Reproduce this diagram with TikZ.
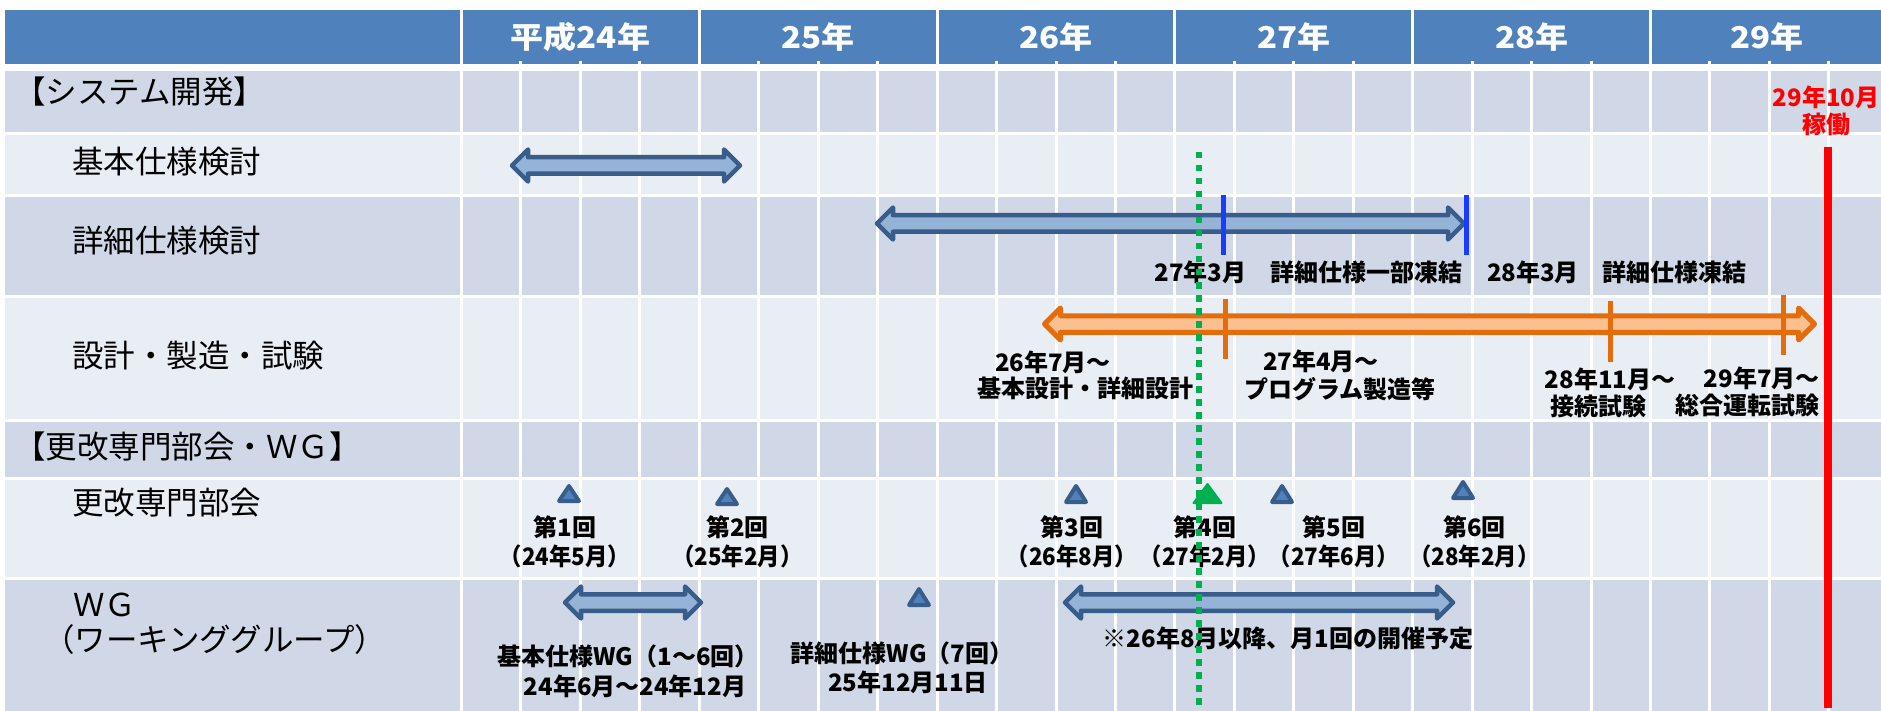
\documentclass[tikz,border=0pt]{standalone}
\usepackage{fontspec}
\newfontfamily\jp{Noto Sans CJK JP}
\definecolor{hdr}{HTML}{4F81BD}
\definecolor{rowA}{HTML}{D0D8E8}
\definecolor{rowB}{HTML}{E9EDF4}
\definecolor{arrFill}{HTML}{95B3D7}
\definecolor{arrLine}{HTML}{385D8A}
\definecolor{orLine}{HTML}{E46C0A}
\definecolor{orFill}{HTML}{FAC090}
\definecolor{grn}{HTML}{00B050}
\definecolor{tickBlue}{HTML}{1A3CFF}
\newcommand\blockarr[4]{%
  \draw[#1] (#2,#4) -- ++(16,-16) -- ++(0,7.75) -- (#3-16,#4-8.25) -- ++(0,-7.75)
   -- (#3,#4) -- ++(-16,16) -- ++(0,-7.75) -- (#2+16,#4+8.25) -- ++(0,7.75) -- cycle;}
\newcommand\mtri[5]{%
  \draw[#1] (#2,#3) -- (#2+#5,#4) -- (#2-#5,#4) -- cycle;}
\newcommand\pl[1]{\scalebox{0.93}[1]{#1}}
\begin{document}
\begin{tikzpicture}[x=1pt,y=-1pt,
  lbl/.style={font=\jp\fontsize{31.5}{38}\selectfont, anchor=west, inner sep=0pt},
  bl/.style={font=\jp\bfseries\fontsize{24}{29}\selectfont, align=center, inner sep=0pt},
  blt/.style={font=\jp\bfseries\fontsize{24}{27}\selectfont, align=center, inner sep=0pt},
  hd/.style={font=\jp\bfseries\fontsize{30}{36}\selectfont, text=white, inner sep=0pt},
  barB/.style={draw=arrLine, fill=arrFill, line width=4.5pt, line join=round},
  barO/.style={draw=orLine, fill=orFill, line width=5pt, line join=round},
  triB/.style={draw=arrLine, fill=hdr, line width=4pt, line join=round},
  triG/.style={draw=grn, fill=grn, line width=2pt, line join=round},
  gridline/.style={white, line width=3pt},
  tickB/.style={tickBlue, line width=5pt},
  tickO/.style={orLine, line width=5pt},
]
\useasboundingbox (0,0) rectangle (1881,711);
\fill[white] (0,0) rectangle (1881,711);
% header and rows
\fill[hdr]  (5,10)  rectangle (1881,64);
\fill[rowA] (5,71)  rectangle (1881,132);
\fill[rowB] (5,135) rectangle (1881,194);
\fill[rowA] (5,197) rectangle (1881,295);
\fill[rowB] (5,298) rectangle (1881,419);
\fill[rowA] (5,422) rectangle (1881,477);
\fill[rowB] (5,480) rectangle (1881,577);
\fill[rowA] (5,580) rectangle (1881,711);
% grid
\foreach \k in {0,...,23} \draw[gridline] ({461.5+59.45*\k},61) -- ({461.5+59.45*\k},711);
\foreach \k in {0,...,5} \draw[gridline] ({461.5+237.8*\k},10) -- ({461.5+237.8*\k},64);
% header labels
\node[hd] (h24) at (580.4,37) {\scalebox{1.1}[1]{平成24年}};
\node[hd] (h25) at (818.2,37) {\scalebox{1.1}[1]{25年}};
\node[hd] (h26) at (1056,37) {\scalebox{1.1}[1]{26年}};
\node[hd] (h27) at (1293.8,37) {\scalebox{1.1}[1]{27年}};
\node[hd] (h28) at (1531.6,37) {\scalebox{1.1}[1]{28年}};
\node[hd] (h29) at (1767,37) {\scalebox{1.1}[1]{29年}};
% left labels
\node[lbl] (sys) at (14,92) {【システム開発】};
\node[lbl] (kihon) at (72,162) {基本仕様検討};
\node[lbl] (shosai) at (72,241) {詳細仕様検討};
\node[lbl] (sekkei) at (72,356) {設計・製造・試験};
\node[lbl] (kai) at (14,447) {【更改専門部会・ＷＧ】};
\node[lbl] (bukai) at (72,503) {更改専門部会};
\node[lbl] (wg) at (73,605) {ＷＧ};
\node[lbl] (wgfull) at (43,640) {（ワーキンググループ）};
% bars
\blockarr{barB}{512}{740}{165.5}
\blockarr{barB}{877}{1464}{223.5}
\blockarr{barO}{1044.5}{1814.5}{324}
\blockarr{barB}{565}{701}{602.5}
\blockarr{barB}{1065}{1453}{602.5}
% milestone ticks
\draw[tickB] (1223,195) -- (1223,255);
\draw[tickB] (1466,195) -- (1466,255);
\draw[tickO] (1225,299) -- (1225,359);
\draw[tickO] (1610,301) -- (1610,362);
\draw[tickO] (1783,295) -- (1783,355);
% triangles
\mtri{triB}{569}{486}{501}{10}
\mtri{triB}{727}{489}{504}{10}
\mtri{triB}{1076}{486}{502}{10}
\mtri{triG}{1207.5}{484}{503}{14}
\mtri{triB}{1282}{486}{502}{10}
\mtri{triB}{1463}{482}{498}{10}
\mtri{triB}{919}{589}{605}{10}
% bold labels
\node[bl] (m1) at (1308.5,272) {27年3月　詳細仕様一部凍結};
\node[bl] (m2) at (1617,272) {28年3月　詳細仕様凍結};
\node[bl] (p1a) at (1053,362) {26年7月～};
\node[bl] (p1b) at (1085,388) {基本設計・詳細設計};
\node[bl] (p2a) at (1321,361) {27年4月～};
\node[bl] (p2b) at (1340,389) {プログラム製造等};
\node[bl] (p3a) at (1610,379) {28年11月～};
\node[bl] (p3b) at (1598,406) {接続試験};
\node[blt, align=right, anchor=east] (p4) at (1820,392) {29年7月～\\総合運転試験};
\node[bl] (c1) at (565,541.5) {第1回\\\pl{（24年5月）}};
\node[bl] (c2) at (737.5,541.5) {第2回\\\pl{（25年2月）}};
\node[bl] (c3) at (1072,541.5) {第3回\\\pl{（26年8月）}};
\node[bl] (c4) at (1205,541.5) {第4回\\\pl{（27年2月）}};
\node[bl] (c5) at (1334,541.5) {第5回\\\pl{（27年6月）}};
\node[bl] (c6) at (1474.5,541.5) {第6回\\\pl{（28年2月）}};
\node[bl] (w1a) at (628,656) {基本仕様WG（1～6回）};
\node[bl] (w1b) at (635,686) {24年6月～24年12月};
\node[bl] (w2a) at (902,653) {詳細仕様WG（7回）};
\node[bl] (w2b) at (908,682) {25年12月11日};
\node[bl] (note) at (1288,638) {※26年8月以降、月1回の開催予定};
% go-live
\node[blt, text=red] (golive) at (1826,110.5) {29年10月\\稼働};
\coordinate (redtop) at (1828,147);
\coordinate (redbot) at (1828,708);
\draw[red, line width=8pt] (redtop) -- (redbot);
% today line
\coordinate (gtop) at (1199,152);
\coordinate (gbot) at (1199,705);
\draw[grn, line width=6pt, dash pattern=on 6.5pt off 6.5pt] (gtop) -- (gbot);
\end{tikzpicture}
\end{document}
